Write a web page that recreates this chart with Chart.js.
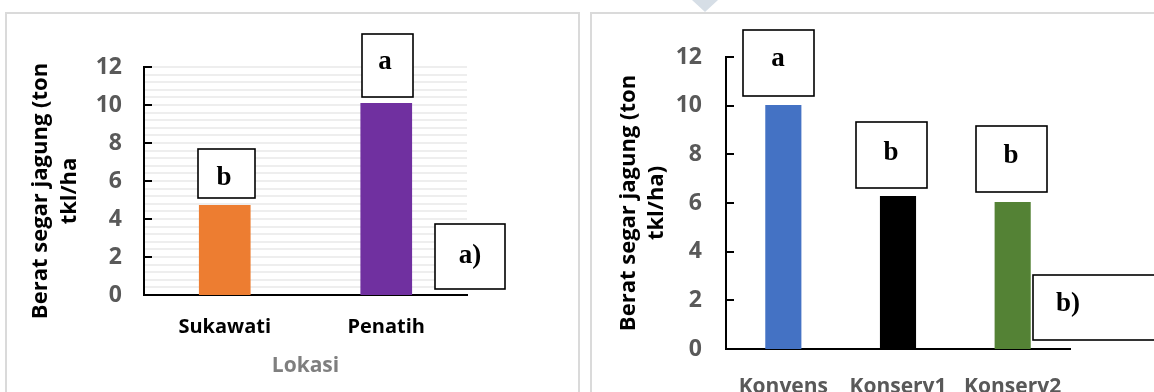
<!DOCTYPE html>
<html>
<head>
<meta charset="utf-8">
<script src="https://cdn.jsdelivr.net/npm/chart.js@4/dist/chart.umd.min.js"></script>
<style>
  html, body { margin: 0; padding: 0; background: #fff; }
  body { width: 1154px; height: 392px; position: relative; overflow: hidden; }
  .panel { position: absolute; border: 2px solid #dadada; box-sizing: border-box; }
  #panel-a { left: 5px; top: 12px; width: 575px; height: 400px; }
  #panel-b { left: 590px; top: 12px; width: 600px; height: 400px; }
  #notch { position: absolute; left: 692px; top: 0; width: 0; height: 0;
           border-left: 13px solid transparent; border-right: 13px solid transparent;
           border-top: 12px solid #d6dee6; }
  canvas { position: absolute; top: 0; }
  #chart-a { left: 0; }
  #chart-b { left: 580px; }
</style>
</head>
<body>
<div class="panel" id="panel-a"></div>
<div class="panel" id="panel-b"></div>
<div id="notch"></div>
<canvas id="chart-a" width="580" height="392"></canvas>
<canvas id="chart-b" width="574" height="392"></canvas>
<script>
// --- Data ---
const lokasiLabels = ['Sukawati', 'Penatih'];
const lokasiValues = [4.74, 10.1];
const lokasiColors = ['#ED7D31', '#7030A0'];
const lokasiLetters = ['b', 'a'];

const sistemLabels = ['Konvens', 'Konserv1', 'Konserv2'];
const sistemValues = [10.03, 6.29, 6.04];
const sistemColors = ['#4472C4', '#000000', '#548235'];
const sistemLetters = ['a', 'b', 'b'];

const yTicks = [0, 2, 4, 6, 8, 10, 12];
const yTitle = ['Berat segar jagung (ton', 'tkl/ha'];
const yTitleB = ['Berat segar jagung (ton', 'tkl/ha)'];

const SANS = "'Open Sans', sans-serif";
const SERIF = "'Liberation Serif', 'Times New Roman', serif";

// --- Plugin: inner tick marks, rotated axis title, letter boxes ---
const decorPlugin = {
    id: 'decor',
    afterDraw(chart, args, opts) {
        const ctx = chart.ctx;
        const y = chart.scales.y;
        const left = chart.chartArea.left;

        // inward tick marks
        ctx.save();
        ctx.strokeStyle = '#000';
        ctx.lineWidth = 2;
        yTicks.forEach(v => {
            const py = Math.round(y.getPixelForValue(v));
            ctx.beginPath();
            ctx.moveTo(left, py);
            ctx.lineTo(left + 8, py);
            ctx.stroke();
        });
        ctx.restore();

        // y axis title (two lines, rotated)
        ctx.save();
        ctx.fillStyle = '#000';
        ctx.font = 'bold 22px ' + SANS;
        ctx.textAlign = 'center';
        ctx.textBaseline = 'alphabetic';
        opts.title.forEach((line, i) => {
            ctx.save();
            ctx.translate(opts.titleX[i], opts.titleY);
            ctx.rotate(-Math.PI / 2);
            ctx.fillText(line, 0, 0);
            ctx.restore();
        });
        ctx.restore();

        // significance letter boxes
        ctx.save();
        opts.boxes.forEach(b => {
            ctx.fillStyle = '#fff';
            ctx.fillRect(b.x, b.y, b.w, b.h);
            ctx.strokeStyle = '#000';
            ctx.lineWidth = 1.6;
            ctx.strokeRect(b.x, b.y, b.w, b.h);
            ctx.fillStyle = '#000';
            ctx.font = 'bold 27px ' + SERIF;
            ctx.textAlign = 'center';
            ctx.textBaseline = 'alphabetic';
            ctx.fillText(b.text, b.tx, b.ty);
        });
        ctx.restore();
    }
};

function baseScales(axisWidth, xHeight, tickPad, xLabelColor, xPad, xSize) {
    return {
        x: {
            grid: { display: false, drawTicks: false },
            border: { color: '#000', width: 2 },
            ticks: { color: xLabelColor, padding: xPad, font: { family: SANS, size: xSize, weight: 'bold' } },
            afterFit: s => { s.height = xHeight; }
        },
        y: {
            min: 0, max: 12,
            afterBuildTicks: s => { s.ticks = yTicks.map(v => ({ value: v })); },
            grid: { display: false, drawTicks: false },
            border: { color: '#000', width: 2 },
            ticks: { color: '#595959', padding: tickPad, font: { family: SANS, size: 23, weight: 'bold' } },
            afterFit: s => { s.width = axisWidth; }
        }
    };
}

// --- Chart a) Lokasi ---
const scalesA = baseScales(144, 97, 22, '#000', 20, 20);
scalesA.x.title = {
    display: true, text: 'Lokasi', color: '#7f7f7f', padding: { top: 0, bottom: 13 },
    font: { family: SANS, size: 21, weight: 'bold' }
};
scalesA.yMinor = {
    position: 'left', min: 0, max: 12,
    ticks: { display: false, stepSize: 0.4 },
    grid: { color: '#eeeeee', lineWidth: 2, drawTicks: false },
    border: { display: false },
    afterFit: s => { s.width = 0; }
};

new Chart(document.getElementById('chart-a'), {
    type: 'bar',
    data: {
        labels: lokasiLabels,
        datasets: [{
            data: lokasiValues,
            backgroundColor: lokasiColors,
            barPercentage: 0.32,
            categoryPercentage: 1
        }]
    },
    options: {
        responsive: false,
        animation: false,
        layout: { padding: { left: 0, top: 67, right: 113, bottom: 0 } },
        plugins: {
            legend: { display: false },
            tooltip: { enabled: false },
            decor: {
                title: yTitle, titleX: [47, 76], titleY: 191,
                boxes: [
                    { text: lokasiLetters[0], x: 198, y: 149, w: 57, h: 49, tx: 224, ty: 185 },
                    { text: lokasiLetters[1], x: 362, y: 34, w: 51, h: 63, tx: 385, ty: 69 },
                    { text: 'a)', x: 435, y: 224, w: 70, h: 65, tx: 470, ty: 263 }
                ]
            }
        },
        scales: scalesA
    },
    plugins: [decorPlugin]
});

// --- Chart b) Sistem ---
const scalesB = baseScales(146, 43, 24, '#595959', 25, 21);

new Chart(document.getElementById('chart-b'), {
    type: 'bar',
    data: {
        labels: sistemLabels,
        datasets: [{
            data: sistemValues,
            backgroundColor: sistemColors,
            barPercentage: 0.315,
            categoryPercentage: 1
        }]
    },
    options: {
        responsive: false,
        animation: false,
        layout: { padding: { left: 0, top: 57, right: 84, bottom: 0 } },
        plugins: {
            legend: { display: false },
            tooltip: { enabled: false },
            decor: {
                title: yTitleB, titleX: [55, 83], titleY: 203,
                boxes: [
                    { text: sistemLetters[0], x: 163, y: 30, w: 71, h: 66, tx: 198, ty: 66 },
                    { text: sistemLetters[1], x: 276, y: 122, w: 71, h: 66, tx: 311, ty: 160 },
                    { text: sistemLetters[2], x: 396, y: 126, w: 71, h: 66, tx: 431, ty: 163 },
                    { text: 'b)', x: 453, y: 275, w: 130, h: 65, tx: 488, ty: 311 }
                ]
            }
        },
        scales: scalesB
    },
    plugins: [decorPlugin]
});
</script>
</body>
</html>
